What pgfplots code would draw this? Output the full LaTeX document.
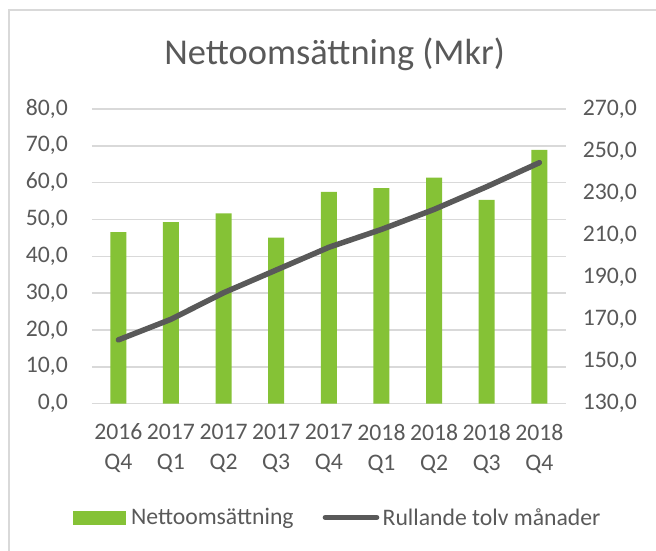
\documentclass[border=0pt]{standalone}
\usepackage{fontspec}
\setmainfont{Carlito}
\usepackage{pgfplots}
\pgfplotsset{compat=1.18}
\definecolor{txt}{HTML}{595959}
\definecolor{gridc}{HTML}{D9D9D9}
\definecolor{bargreen}{HTML}{85C236}
\definecolor{linegray}{HTML}{595959}
\pgfplotsset{common/.style={
  scale only axis, width=473.7pt, height=294.7pt,
  at={(92pt,146.3pt)}, anchor=south west,
  xmin=-0.5, xmax=8.5,
  axis line style={draw=none},
  major tick length=0pt,
  tick style={draw=none},
  tick label style={font=\fontsize{23.7}{30}\selectfont, text=txt},
  /pgf/number format/.cd, fixed, fixed zerofill, precision=1, use comma, assume math mode=true,
}}
\begin{document}
\begin{tikzpicture}
\useasboundingbox (0pt,0pt) rectangle (656pt,550pt);
\clip (0pt,0pt) rectangle (656pt,550pt);
\draw[gridc, line width=1.5pt] (9pt,540pt) rectangle (720pt,-20pt);
\node[text=txt, anchor=base, font=\fontsize{36.4}{42}\selectfont] at (334.7pt,485pt) {Nettoomsättning (Mkr)};
\begin{axis}[common,
  ymin=0, ymax=80, ytick={0,10,...,80},
  ymajorgrids, grid style={gridc, line width=1.5pt},
  xtick={0,...,8},
  xticklabels={{2016\\Q4},{2017\\Q1},{2017\\Q2},{2017\\Q3},{2017\\Q4},{2018\\Q1},{2018\\Q2},{2018\\Q3},{2018\\Q4}},
  xticklabel style={align=center, anchor=north, inner sep=0pt, yshift=-20pt},
  yticklabel style={anchor=base east, inner sep=0pt, xshift=-24pt, yshift=-6pt},
]
\addplot[ybar, bar width=16pt, fill=bargreen, draw=none] coordinates {
(0,46.6) (1,49.3) (2,51.7) (3,45.1) (4,57.5) (5,58.5) (6,61.4) (7,55.3) (8,68.9)};
\end{axis}
\begin{axis}[common,
  axis y line*=right, axis x line=none,
  ymin=130, ymax=270, ytick={130,150,...,270},
  yticklabel style={anchor=base west, inner sep=0pt, xshift=17pt, yshift=-6pt},
  legend columns=2,
  legend style={at={(-0.0407,-0.386)}, anchor=west, draw=none, fill=none,
    inner sep=0pt, font=\fontsize{23.7}{30}\selectfont, text=txt,
    nodes={inner sep=0pt},
    /tikz/column 1/.style={column sep=5.7pt},
    /tikz/column 2/.style={column sep=29pt},
    /tikz/column 3/.style={column sep=3.3pt}},
]
\addlegendimage{legend image code/.code={\fill[bargreen] (0pt,-6.5pt) rectangle (52pt,6.5pt);}}
\addlegendentry{Nettoomsättning}
\addplot[linegray, line width=5.5pt, line cap=round, line join=round,
  legend image code/.code={\draw[linegray, line width=5.3pt, line cap=round] (2.65pt,0pt) -- (54.05pt,0pt);}] coordinates {
(0,160.3) (1,170.1) (2,182.7) (3,193.5) (4,204.3) (5,212.8) (6,222.3) (7,233.1) (8,244.5)};
\addlegendentry{Rullande tolv månader}
\end{axis}
\end{tikzpicture}
\end{document}
